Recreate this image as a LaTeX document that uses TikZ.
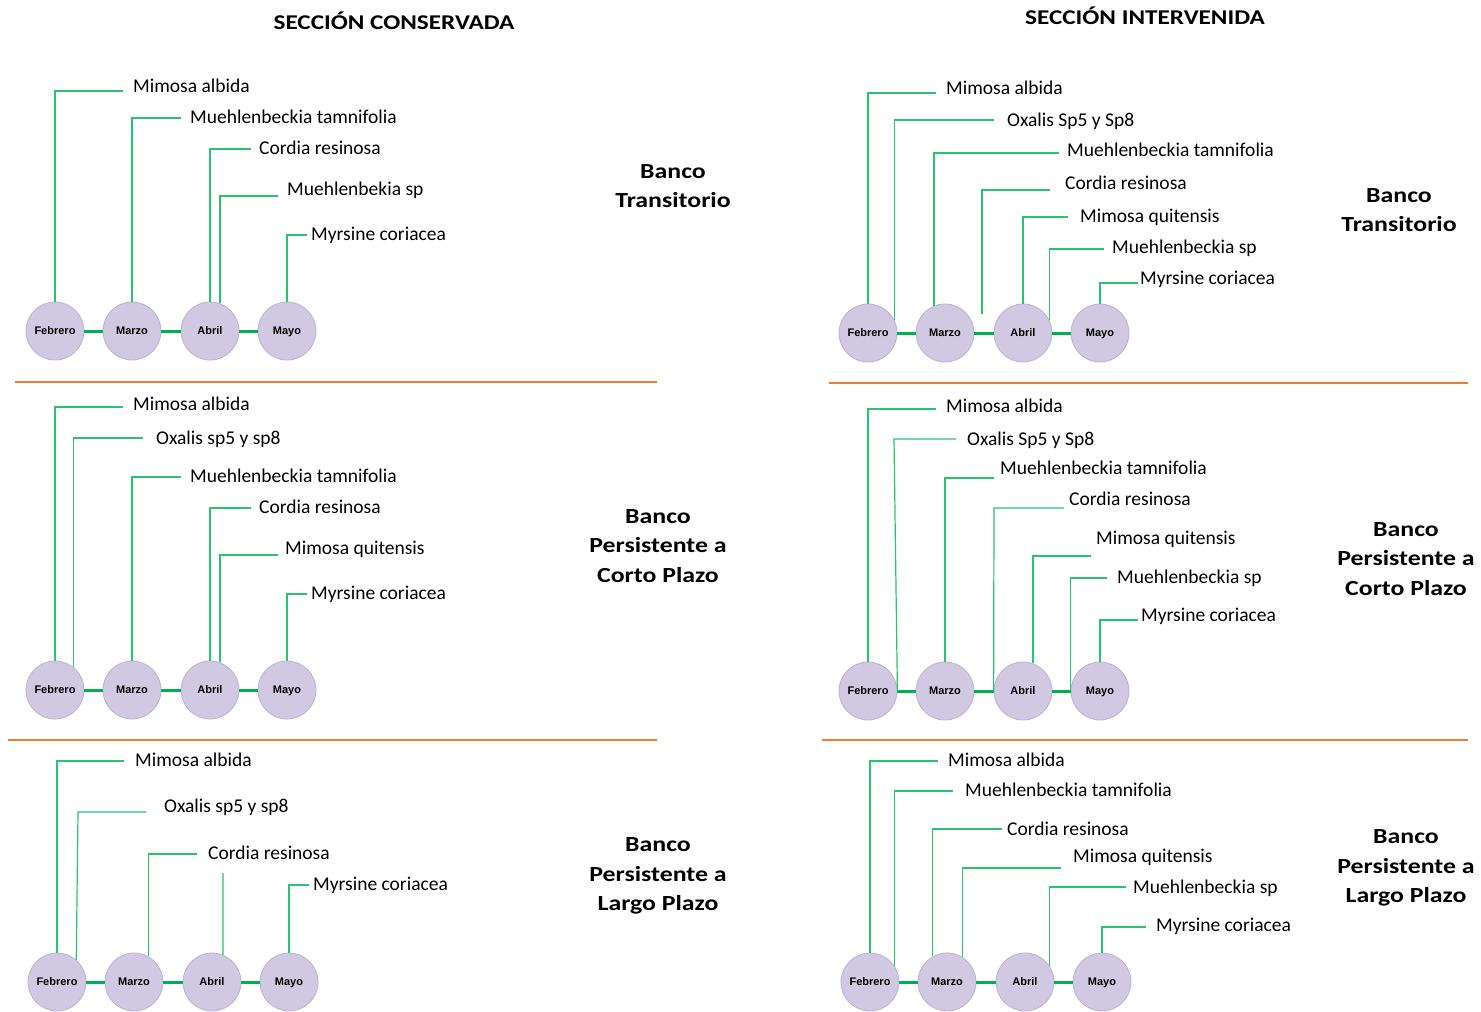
\documentclass[tikz,border=0pt]{standalone}
\usepackage{fontspec}
\setmainfont{Carlito}
\newfontfamily\widefont{Carlito}[FakeStretch=1.2]
\newfontfamily\monthfont{Liberation Sans}
\definecolor{circfill}{RGB}{209,201,225}
\definecolor{circdraw}{RGB}{188,178,210}
\definecolor{linkgreen}{RGB}{0,176,80}
\definecolor{leadgreen}{RGB}{40,196,110}
\definecolor{sepor}{RGB}{237,125,49}
\tikzset{
  month/.style={circle, minimum size=58pt, inner sep=0pt, fill=circfill, draw=circdraw, line width=0.8pt, text height=0.72em, text depth=0pt, font=\monthfont\bfseries\fontsize{11}{13}\selectfont},
  link/.style={draw=linkgreen, line width=3pt},
  leader/.style={draw=leadgreen, line width=1.2pt},
  lab/.style={anchor=west, inner sep=0pt, text height=1.1em, text depth=0pt, font=\fontsize{19.5}{22}\selectfont},
  bank/.style={align=center, inner sep=0pt, font=\widefont\bfseries\fontsize{21.5}{29.5}\selectfont},
  head/.style={inner sep=0pt, font=\widefont\bfseries\fontsize{21}{25}\selectfont},
  sep/.style={draw=sepor, line width=2.5pt}
}
\begin{document}
\begin{tikzpicture}[x=1pt,y=-1pt]
\useasboundingbox (0,0) rectangle (1481,1012);
\node[head] (h1) at (394,21) {SECCIÓN CONSERVADA};
\node[head] (h2) at (1145,16) {SECCIÓN INTERVENIDA};

% ---------- Panel 1 ----------
\node[month] (F1) at (55,331) {Febrero};
\node[month] (M1) at (132,331) {Marzo};
\node[month] (A1) at (210,331) {Abril};
\node[month] (Y1) at (287,331) {Mayo};
\draw[link] (F1) -- (M1); \draw[link] (M1) -- (A1); \draw[link] (A1) -- (Y1);
\node[lab] (l11) at (133,87) {Mimosa albida};
\node[lab] (l12) at (190,118) {Muehlenbeckia tamnifolia};
\node[lab] (l13) at (259,149) {Cordia resinosa};
\node[lab] (l14) at (287,190) {Muehlenbekia sp};
\node[lab] (l15) at (311,235) {Myrsine coriacea};
\draw[leader] (F1.90) |- (123,91);
\draw[leader] (M1.90) |- (181,118);
\draw[leader] (A1.90) |- (251,149);
\draw[leader] (A1.70) |- (278,196);
\draw[leader] (Y1.90) |- (307,235);
\node[bank] (b1) at (673,186) {Banco\\Transitorio};
\draw[sep] (15,382) -- (657,382);

% ---------- Panel 2 ----------
\node[month] (F2) at (868,333) {Febrero};
\node[month] (M2) at (945,333) {Marzo};
\node[month] (A2) at (1023,333) {Abril};
\node[month] (Y2) at (1100,333) {Mayo};
\draw[link] (F2) -- (M2); \draw[link] (M2) -- (A2); \draw[link] (A2) -- (Y2);
\node[lab] (l21) at (946,89) {Mimosa albida};
\node[lab] (l22) at (1007,121) {Oxalis Sp5 y Sp8};
\node[lab] (l23) at (1067,151) {Muehlenbeckia tamnifolia};
\node[lab] (l24) at (1065,184) {Cordia resinosa};
\node[lab] (l25) at (1080,217) {Mimosa quitensis};
\node[lab] (l26) at (1112,248) {Muehlenbeckia sp};
\node[lab] (l27) at (1140,279) {Myrsine coriacea};
\coordinate (c24) at (982,314);
\draw[leader] (F2.90) |- (936,93);
\draw[leader] (F2.26) |- (994,120);
\draw[leader] (M2.112) |- (1059,153);
\draw[leader] (c24) |- (1050,190);
\draw[leader] (A2.90) |- (1068,217);
\draw[leader] (A2.26) |- (1104,249);
\draw[leader] (Y2.90) |- (1138,283);
\node[bank] (b2) at (1399,210) {Banco\\Transitorio};
\draw[sep] (829,383) -- (1468,383);

% ---------- Panel 3 ----------
\node[month] (F3) at (55,690) {Febrero};
\node[month] (M3) at (132,690) {Marzo};
\node[month] (A3) at (210,690) {Abril};
\node[month] (Y3) at (287,690) {Mayo};
\draw[link] (F3) -- (M3); \draw[link] (M3) -- (A3); \draw[link] (A3) -- (Y3);
\node[lab] (l31) at (133,405) {Mimosa albida};
\node[lab] (l32) at (156,439) {Oxalis sp5 y sp8};
\node[lab] (l33) at (190,477) {Muehlenbeckia tamnifolia};
\node[lab] (l34) at (259,508) {Cordia resinosa};
\node[lab] (l35) at (285,549) {Mimosa quitensis};
\node[lab] (l36) at (311,594) {Myrsine coriacea};
\draw[leader] (F3.90) |- (123,407);
\draw[leader] (F3.52) |- (143,438);
\draw[leader] (M3.90) |- (181,477);
\draw[leader] (A3.90) |- (251,508);
\draw[leader] (A3.70) |- (278,555);
\draw[leader] (Y3.90) |- (307,594);
\node[bank] (b3) at (658,546) {Banco\\Persistente a\\Corto Plazo};
\draw[sep] (8,740) -- (657,740);

% ---------- Panel 4 ----------
\node[month] (F4) at (868,691) {Febrero};
\node[month] (M4) at (945,691) {Marzo};
\node[month] (A4) at (1023,691) {Abril};
\node[month] (Y4) at (1100,691) {Mayo};
\draw[link] (F4) -- (M4); \draw[link] (M4) -- (A4); \draw[link] (A4) -- (Y4);
\node[lab] (l41) at (946,407) {Mimosa albida};
\node[lab] (l42) at (967,440) {Oxalis Sp5 y Sp8};
\node[lab] (l43) at (1000,469) {Muehlenbeckia tamnifolia};
\node[lab] (l44) at (1069,500) {Cordia resinosa};
\node[lab] (l45) at (1096,539) {Mimosa quitensis};
\node[lab] (l46) at (1117,578) {Muehlenbeckia sp};
\node[lab] (l47) at (1141,616) {Myrsine coriacea};
\draw[leader] (F4.90) |- (936,409);
\draw[leader] (F4.east) -- (894,439) -- (956,439);
\draw[leader] (M4.90) |- (994,478);
\draw[leader] (A4.west) -- (994,508) -- (1064,508);
\draw[leader] (A4.70) |- (1091,556);
\draw[leader] (Y4.west) |- (1107,578);
\draw[leader] (Y4.90) |- (1138,620);
\node[bank] (b4) at (1406,559) {Banco\\Persistente a\\Corto Plazo};
\draw[sep] (822,740) -- (1468,740);

% ---------- Panel 5 ----------
\node[month] (F5) at (57,982) {Febrero};
\node[month] (M5) at (134,982) {Marzo};
\node[month] (A5) at (212,982) {Abril};
\node[month] (Y5) at (289,982) {Mayo};
\draw[link] (F5) -- (M5); \draw[link] (M5) -- (A5); \draw[link] (A5) -- (Y5);
\node[lab] (l51) at (135,761) {Mimosa albida};
\node[lab] (l52) at (164,807) {Oxalis sp5 y sp8};
\node[lab] (l53) at (208,854) {Cordia resinosa};
\node[lab] (l54) at (313,885) {Myrsine coriacea};
\coordinate (c55) at (223,873);
\draw[leader] (F5.90) |- (124,761);
\draw[leader] (F5.49) -- (78,812) -- (146,812);
\draw[leader] (M5.61) |- (197,854);
\draw[leader] (A5.68) -- (c55);
\draw[leader] (Y5.90) |- (309,885);
\node[bank] (b5) at (658,876) {Banco\\Persistente a\\Largo Plazo};

% ---------- Panel 6 ----------
\node[month] (F6) at (870,982) {Febrero};
\node[month] (M6) at (947,982) {Marzo};
\node[month] (A6) at (1025,982) {Abril};
\node[month] (Y6) at (1102,982) {Mayo};
\draw[link] (F6) -- (M6); \draw[link] (M6) -- (A6); \draw[link] (A6) -- (Y6);
\node[lab] (l61) at (948,761) {Mimosa albida};
\node[lab] (l62) at (965,791) {Muehlenbeckia tamnifolia};
\node[lab] (l63) at (1007,830) {Cordia resinosa};
\node[lab] (l64) at (1073,857) {Mimosa quitensis};
\node[lab] (l65) at (1133,888) {Muehlenbeckia sp};
\node[lab] (l66) at (1156,926) {Myrsine coriacea};
\draw[leader] (F6.90) |- (938,761);
\draw[leader] (F6.34) |- (953,791);
\draw[leader] (M6.119) |- (1002,829);
\draw[leader] (M6.59) |- (1061,868);
\draw[leader] (A6.34) |- (1126,887);
\draw[leader] (Y6.90) |- (1146,927);
\node[bank] (b6) at (1406,868) {Banco\\Persistente a\\Largo Plazo};
\end{tikzpicture}
\end{document}
